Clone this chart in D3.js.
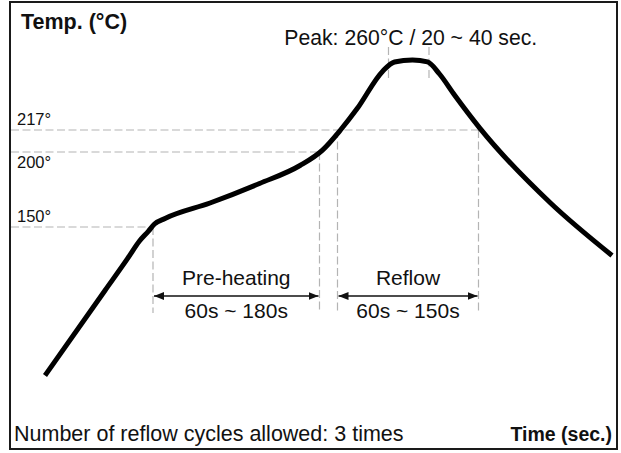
<!DOCTYPE html>
<html>
<head>
<meta charset="utf-8">
<script src="https://cdn.jsdelivr.net/npm/d3@7"></script>
<style>
  body { margin: 0; background: #fff; }
  text { font-family: "Liberation Sans", Arial, Helvetica, sans-serif; fill: #111; }
  .guide { stroke: #b4b4b4; stroke-width: 1.2; stroke-dasharray: 8 3.5; fill: none; }
</style>
</head>
<body>
<div id="chart"></div>
<script>
// reflow profile (time in s, temp in °C)
const profileTime = [0, 40, 55, 63, 69, 73, 80, 110, 143, 170, 185, 197, 208, 225, 233, 245, 255, 263, 273, 290, 337, 378];
const profileTemp = [51, 107.7, 128.9, 140.7, 147.3, 152, 155.7, 166, 179, 191, 201.5, 217, 230, 253, 258.8, 260, 258.8, 251.4, 238.5, 218, 166, 131];

// marked temperatures
const tempTicks = [217, 200, 150];
const tempTickLabels = ["217°", "200°", "150°"];

// zones
const zoneNames = ["Pre-heating", "Reflow"];
const zoneRanges = ["60s ~ 180s", "60s ~ 150s"];
const zoneStart = [72, 195];
const zoneEnd = [183, 289];
const zoneTemp = [150, 217];      // temp the left guide starts at
const zoneEndTemp = [200, 217];   // temp the right guide starts at

// peak window
const peakStart = 229;
const peakEnd = 256;
const peakLabel = "Peak: 260°C / 20 ~ 40 sec.";

const W = 621, H = 453;
const svg = d3.select("#chart").append("svg")
  .attr("width", W).attr("height", H);

const x = d3.scaleLinear().domain([0, 378]).range([45, 612]);
// schematic, piecewise temperature axis
const y = d3.scaleLinear().domain([150, 200, 217, 260]).range([227, 152, 130, 60]);

const boxLeft = 10, guideBottom = 313, arrowY = 296;

// frame
svg.append("rect")
  .attr("x", 10).attr("y", 2)
  .attr("width", 607).attr("height", 447)
  .attr("fill", "none").attr("stroke", "#1a1a1a").attr("stroke-width", 2);

//----------------------------------------
// horizontal guides
//----------------------------------------
const hEnds = [zoneEnd[1], zoneEnd[0], zoneStart[0]];
svg.selectAll(".hguide")
  .data(tempTicks)
  .enter()
  .append("line")
  .attr("class", "guide")
  .attr("x1", boxLeft + 1)
  .attr("x2", (d, i) => x(hEnds[i]))
  .attr("y1", d => y(d))
  .attr("y2", d => y(d));

const tickDy = [-5, 16, -5];
svg.selectAll(".ticklabel")
  .data(tempTicks)
  .enter()
  .append("text")
  .attr("x", 17)
  .attr("y", (d, i) => y(d) + tickDy[i])
  .attr("font-size", "16.5px")
  .text((d, i) => tempTickLabels[i]);

//----------------------------------------
// vertical zone guides
//----------------------------------------
const vGuides = [
  { t: zoneStart[0], temp: zoneTemp[0] },
  { t: zoneEnd[0], temp: zoneEndTemp[0] },
  { t: zoneStart[1], temp: zoneTemp[1] },
  { t: zoneEnd[1], temp: zoneEndTemp[1] }
];
svg.selectAll(".vguide")
  .data(vGuides)
  .enter()
  .append("line")
  .attr("class", "guide")
  .attr("x1", d => x(d.t)).attr("x2", d => x(d.t))
  .attr("y1", d => y(d.temp)).attr("y2", guideBottom);

// peak guides
svg.selectAll(".pguide")
  .data([peakStart, peakEnd])
  .enter()
  .append("line")
  .attr("class", "guide")
  .attr("x1", d => x(d)).attr("x2", d => x(d))
  .attr("y1", 47).attr("y2", 80);

//----------------------------------------
// arrows + zone labels
//----------------------------------------
const defs = svg.append("defs");
["start", "end"].forEach(k => {
  defs.append("marker")
    .attr("id", "arrow-" + k)
    .attr("viewBox", "0 0 10 8")
    .attr("refX", k == "end" ? 10 : 0).attr("refY", 4)
    .attr("markerWidth", 10).attr("markerHeight", 8)
    .attr("markerUnits", "userSpaceOnUse")
    .attr("orient", "auto")
    .append("path")
    .attr("d", k == "end" ? "M0,0 L10,4 L0,8 Z" : "M10,0 L0,4 L10,8 Z")
    .attr("fill", "#111");
});

svg.selectAll(".zonearrow")
  .data(zoneNames)
  .enter()
  .append("line")
  .attr("x1", (d, i) => x(zoneStart[i]) + 1)
  .attr("x2", (d, i) => x(zoneEnd[i]) - 1)
  .attr("y1", arrowY).attr("y2", arrowY)
  .attr("stroke", "#111").attr("stroke-width", 1.5)
  .attr("marker-start", "url(#arrow-start)")
  .attr("marker-end", "url(#arrow-end)");

svg.selectAll(".zonename")
  .data(zoneNames)
  .enter()
  .append("text")
  .attr("x", (d, i) => x((zoneStart[i] + zoneEnd[i]) / 2))
  .attr("y", 285)
  .attr("text-anchor", "middle")
  .attr("font-size", "21px")
  .text(d => d);

svg.selectAll(".zonerange")
  .data(zoneRanges)
  .enter()
  .append("text")
  .attr("x", (d, i) => x((zoneStart[i] + zoneEnd[i]) / 2))
  .attr("y", 318)
  .attr("text-anchor", "middle")
  .attr("font-size", "21px")
  .text(d => d);

//----------------------------------------
// profile curve
//----------------------------------------
const line = d3.line()
  .x((d, i) => x(profileTime[i]))
  .y(d => y(d))
  .curve(d3.curveMonotoneX);

svg.append("path")
  .datum(profileTemp)
  .attr("d", line)
  .attr("fill", "none")
  .attr("stroke", "#000")
  .attr("stroke-width", 5)
  .attr("stroke-linejoin", "round");

//----------------------------------------
// titles
//----------------------------------------
svg.append("text")
  .attr("x", x((peakStart + peakEnd) / 2) + 2).attr("y", 45)
  .attr("text-anchor", "middle")
  .attr("font-size", "21.2px")
  .text(peakLabel);

svg.append("text")
  .attr("x", 21).attr("y", 29)
  .attr("font-size", "21.5px").attr("font-weight", "bold")
  .text("Temp. (°C)");

svg.append("text")
  .attr("x", 14).attr("y", 441)
  .attr("font-size", "21.5px")
  .text("Number of reflow cycles allowed: 3 times");

svg.append("text")
  .attr("x", 612).attr("y", 441)
  .attr("text-anchor", "end")
  .attr("font-size", "19.5px").attr("font-weight", "bold")
  .text("Time (sec.)");
</script>
</body>
</html>
